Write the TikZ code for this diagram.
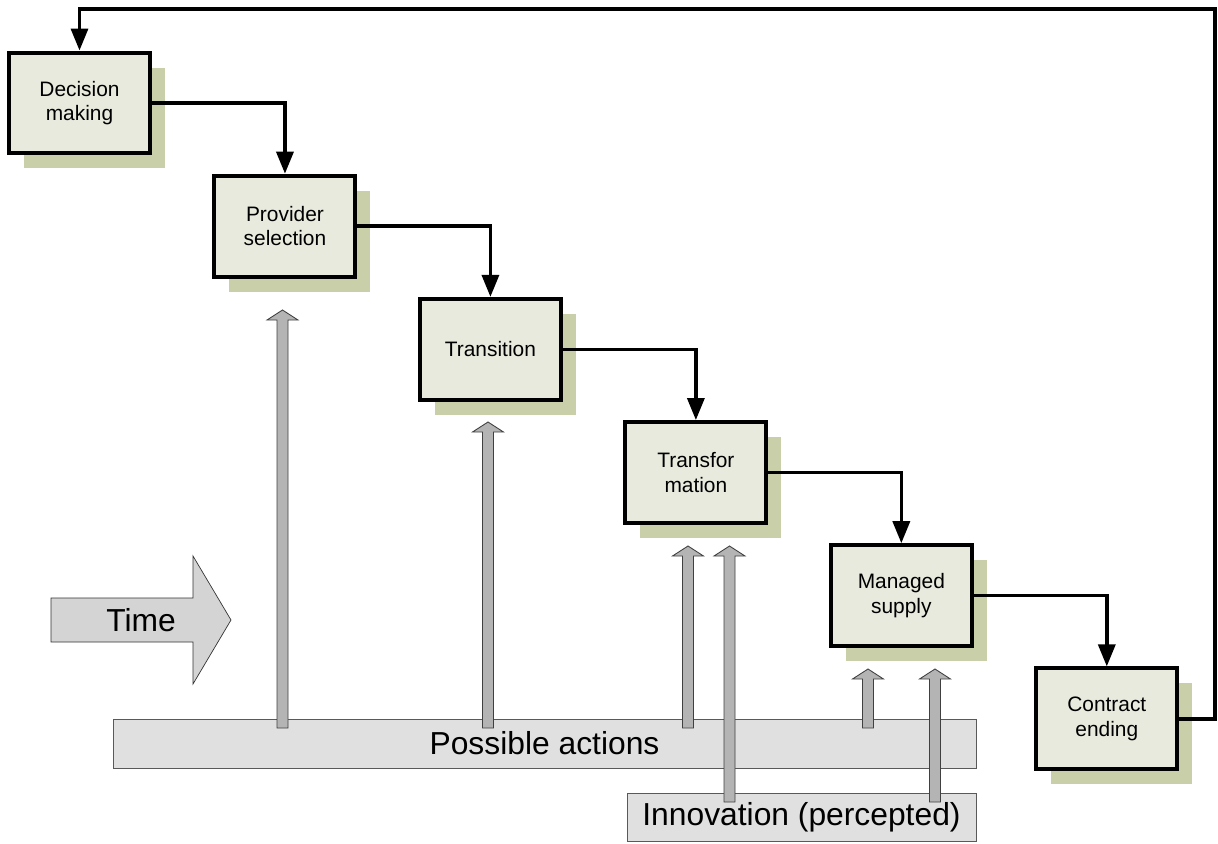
\documentclass[tikz,border=0pt]{standalone}
\usepackage{fontspec}
\setmainfont{Liberation Sans}
\usetikzlibrary{positioning,shadows,arrows.meta}

\definecolor{boxfill}{HTML}{E9EADE}
\definecolor{shadowfill}{HTML}{C8CFA9}
\definecolor{barfill}{HTML}{E0E0E0}
\definecolor{upfill}{HTML}{B4B4B4}
\definecolor{timefill}{HTML}{D4D4D4}

\begin{document}
\begin{tikzpicture} [x=0.02cm,y=-0.02cm,node distance=2.464cm and 4.11cm,
  phase/.style={draw,line width=0.08cm,fill=boxfill,minimum width=2.82cm,minimum height=2.02cm,
    align=center,font=\fontsize{11.9pt}{13.8pt}\selectfont,
    drop shadow={shadow xshift=0.3cm,shadow yshift=-0.3cm,fill=shadowfill,opacity=1}},
  flow/.style={line width=0.068cm,-{Triangle[width=0.34cm,length=0.44cm]}},
  bar/.style={draw=black!65,fill=barfill,font=\fontsize{18.1pt}{21pt}\selectfont},
  uparrow/.style={draw=black!75,fill=upfill,line width=0.5pt}]

  \useasboundingbox (0,0) rectangle (1218,843);

  % bars at the bottom
  \node[bar,minimum width=17.26cm,minimum height=0.98cm] (pa) at (544.5,743.5) {Possible actions};
  \node[bar,minimum width=6.98cm,minimum height=0.96cm] (inn) at (801.5,817) {Innovation (percepted)};

  % time arrow
  \draw[fill=timefill,draw=black!80] (51,598) -- (193,598) -- (193,556) -- (231,620)
    -- (193,684) -- (193,642) -- (51,642) -- cycle;
  \node[font=\fontsize{18.1pt}{21pt}\selectfont] (time) at (141,620) {Time};

  % actions and innovation pushing up
  \foreach \x/\b/\t in {282.5/728/310, 488/728/422, 688/728/546, 729.5/802/546, 868/728/669, 935/802/669}
    \draw[uparrow] (\x-5.5,\b) -- (\x-5.5,\t+10) -- (\x-15.5,\t+10) -- (\x,\t)
      -- (\x+15.5,\t+10) -- (\x+5.5,\t+10) -- (\x+5.5,\b) -- cycle;

  % phases
  \node[phase] (dm) at (79.5,103) {Decision\\making};
  \node[phase,on grid] (ps) [below right=of dm] {Provider\\selection};
  \node[phase,on grid] (tr) [below right=of ps] {Transition};
  \node[phase,on grid] (tf) [below right=of tr] {Transfor\\mation};
  \node[phase,on grid] (ms) [below right=of tf] {Managed\\supply};
  \node[phase,on grid] (ce) [below right=of ms] {Contract\\ending};

  \coordinate (back) at (1215,9);

  \draw[flow] (dm.east) -| (ps.north);
  \draw[flow] (ps.east) -| (tr.north);
  \draw[flow] (tr.east) -| (tf.north);
  \draw[flow] (tf.east) -| (ms.north);
  \draw[flow] (ms.east) -| (ce.north);
  \draw[flow] (ce.east) -| (back) -| (dm.north);

\end{tikzpicture}
\end{document}
